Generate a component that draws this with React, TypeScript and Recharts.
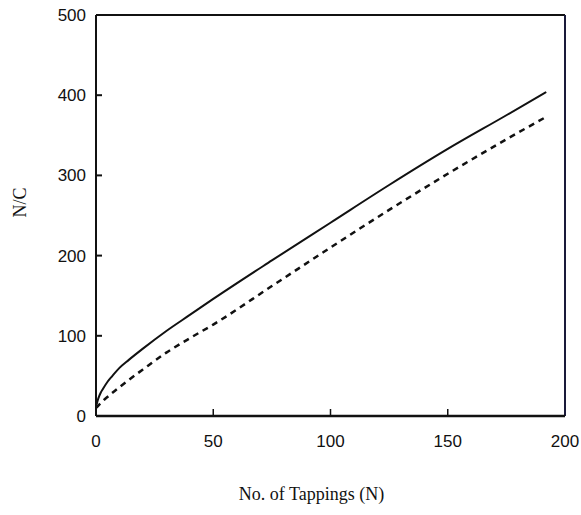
import React from 'react';
import { LineChart, Line, XAxis, YAxis, ReferenceLine } from 'recharts';

const tappings = [0, 0.5, 1, 2, 3, 5, 7, 10, 14, 20, 30, 40, 50, 75, 100, 125, 150, 175, 192];
const solidNC = [12, 17, 22, 29, 34, 43, 50, 60, 70, 84, 106, 126, 146, 194, 241, 288, 333, 375, 404];
const dashedNC = [10, 11.5, 13, 16, 19, 24, 29, 36, 45, 58, 79, 97, 114, 162, 210, 257, 302, 345, 373];
const xTicks = [0, 50, 100, 150, 200];
const yTicks = [0, 100, 200, 300, 400, 500];

const data = tappings.map((n, i) => ({ n, solid: solidNC[i], dashed: dashedNC[i] }));

const fontStyle = { fontFamily: 'Liberation Sans, Arial, sans-serif', fontSize: 17, fill: '#111' };
const X_MARGIN = 19;
const Y_MARGIN = 10;

const YTick = (props: any) => {
  const { x, y, payload, index } = props;
  const showLine = index > 0 && index < yTicks.length - 1;
  return (
    <g>
      {showLine && (
        <line x1={x + Y_MARGIN} x2={x + Y_MARGIN + 6} y1={y} y2={y} stroke="#111" strokeWidth={2} />
      )}
      <text x={x} y={y} dy="0.355em" textAnchor="end" style={fontStyle}>
        {payload.value}
      </text>
    </g>
  );
};

const XTick = (props: any) => {
  const { x, y, payload, index } = props;
  const showLine = index > 0 && index < xTicks.length - 1;
  return (
    <g>
      {showLine && (
        <line x1={x} x2={x} y1={y - X_MARGIN} y2={y - X_MARGIN - 7} stroke="#111" strokeWidth={1.5} />
      )}
      <text x={x} y={y} dy="0.71em" textAnchor="middle" style={fontStyle}>
        {payload.value}
      </text>
    </g>
  );
};

export default function App() {
  return (
    <div style={{ position: 'absolute', left: 0, top: 0, background: '#fff' }}>
      <LineChart
        width={581}
        height={515}
        data={data}
        margin={{ top: 15, right: 16, bottom: 39, left: 0 }}
      >
        <XAxis
          dataKey="n"
          type="number"
          domain={[0, 200]}
          ticks={xTicks}
          height={60}
          tickLine={false}
          tickSize={0}
          tickMargin={X_MARGIN}
          tick={<XTick />}
          stroke="#111"
          axisLine={{ stroke: '#111', strokeWidth: 2.5 }}
          label={{
            content: (props: any) => {
              const vb = props.viewBox;
              return (
                <text
                  x={vb.x + vb.width / 2 - 19}
                  y={vb.y + 84}
                  textAnchor="middle"
                  style={{ fontFamily: 'Liberation Serif, Times New Roman, serif', fontSize: 18, fill: '#111' }}
                >
                  No. of Tappings (N)
                </text>
              );
            },
          }}
        />
        <YAxis
          type="number"
          domain={[0, 500]}
          ticks={yTicks}
          width={96}
          tickLine={false}
          tickSize={0}
          tickMargin={Y_MARGIN}
          tick={<YTick />}
          stroke="#111"
          axisLine={{ stroke: '#111', strokeWidth: 2 }}
          label={{
            content: (props: any) => {
              const vb = props.viewBox;
              const cx = vb.x + 20;
              const cy = vb.y + vb.height / 2 - 13;
              return (
                <text
                  x={cx}
                  y={cy}
                  textAnchor="middle"
                  dominantBaseline="central"
                  transform={`rotate(-90, ${cx}, ${cy})`}
                  style={{ fontFamily: 'Liberation Serif, Times New Roman, serif', fontSize: 18, fill: '#111' }}
                >
                  N/C
                </text>
              );
            },
          }}
        />
        <ReferenceLine y={500} stroke="#111" strokeWidth={2} />
        <ReferenceLine x={200} stroke="#1a1a3a" strokeWidth={2} />
        <Line
          type="monotone"
          dataKey="solid"
          stroke="#111"
          strokeWidth={2}
          dot={false}
          isAnimationActive={false}
        />
        <Line
          type="monotone"
          dataKey="dashed"
          stroke="#111"
          strokeWidth={2.5}
          strokeDasharray="6 5"
          dot={false}
          isAnimationActive={false}
        />
      </LineChart>
    </div>
  );
}
